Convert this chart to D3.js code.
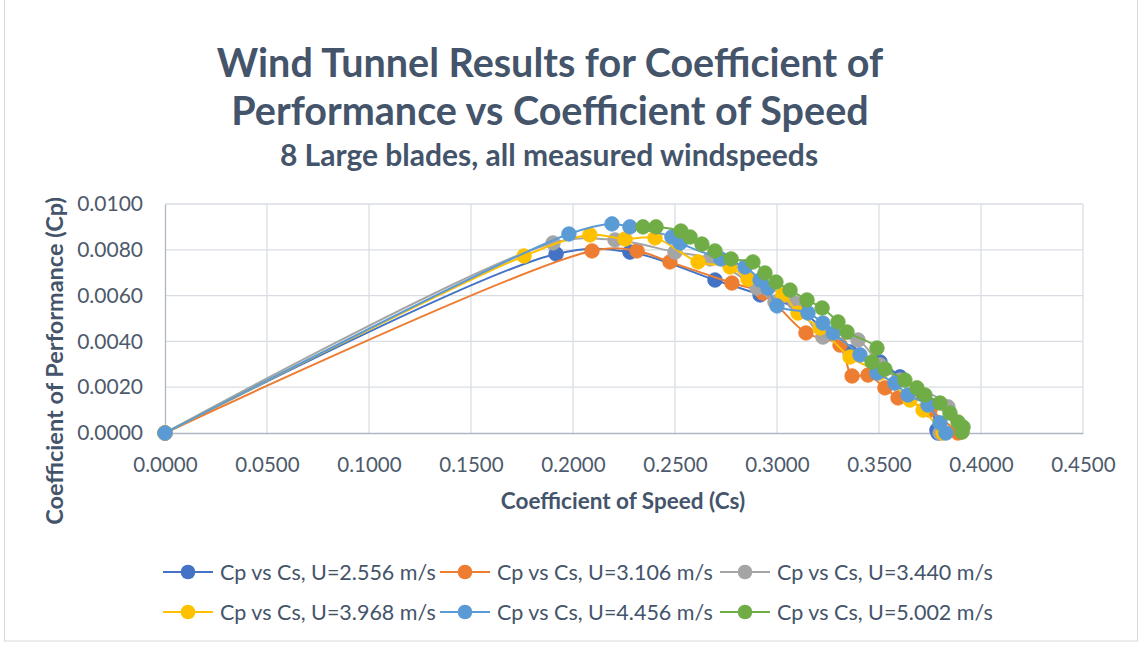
<!DOCTYPE html>
<html>
<head>
<meta charset="utf-8">
<script src="https://cdn.jsdelivr.net/npm/d3@7"></script>
<style>
  html, body { margin: 0; padding: 0; background: #ffffff; }
  svg { display: block; }
  text { font-family: Lato, "Open Sans", sans-serif; }
</style>
</head>
<body>
<svg id="chart" width="1142" height="645"></svg>
<script>
// Series: Cs (x) and Cp (y) for each measured wind speed
const seriesNames = [
  "Cp vs Cs, U=2.556 m/s", "Cp vs Cs, U=3.106 m/s", "Cp vs Cs, U=3.440 m/s",
  "Cp vs Cs, U=3.968 m/s", "Cp vs Cs, U=4.456 m/s", "Cp vs Cs, U=5.002 m/s"
];
const seriesColors = ["#4472C4", "#ED7D31", "#A5A5A5", "#FFC000", "#5B9BD5", "#70AD47"];

const cs_2556 = [0, 0.1917, 0.2279, 0.2696, 0.2917, 0.3113, 0.3358, 0.3505, 0.3603, 0.3691, 0.3750, 0.3784, 0.3789];
const cp_2556 = [0, 0.00782, 0.00790, 0.00668, 0.00603, 0.00537, 0.00354, 0.00310, 0.00245, 0.00179, 0.00122, 0.00013, 0];

const cs_3106 = [0, 0.2093, 0.2314, 0.2475, 0.2779, 0.2931, 0.3142, 0.3309, 0.3368, 0.3446, 0.3529, 0.3593, 0.3750, 0.3887];
const cp_3106 = [0, 0.00795, 0.00795, 0.00747, 0.00655, 0.00611, 0.00437, 0.00384, 0.00249, 0.00253, 0.00197, 0.00153, 0.00100, 0];

const cs_3440 = [0, 0.1902, 0.2206, 0.2500, 0.2672, 0.2902, 0.2990, 0.3088, 0.3225, 0.3397, 0.3505, 0.3603, 0.3838, 0.3799];
const cp_3440 = [0, 0.00830, 0.00843, 0.00790, 0.00760, 0.00633, 0.00572, 0.00568, 0.00419, 0.00406, 0.00297, 0.00231, 0.00114, 0];

const cs_3968 = [0, 0.1760, 0.2083, 0.2255, 0.2402, 0.2613, 0.2770, 0.2858, 0.3029, 0.3103, 0.3211, 0.3358, 0.3505, 0.3652, 0.3716, 0.3814];
const cp_3968 = [0, 0.00773, 0.00865, 0.00847, 0.00852, 0.00747, 0.00725, 0.00672, 0.00603, 0.00524, 0.00459, 0.00332, 0.00262, 0.00144, 0.00100, 0];

const cs_4456 = [0, 0.1980, 0.2191, 0.2279, 0.2485, 0.2525, 0.2725, 0.2843, 0.2917, 0.2956, 0.3000, 0.3152, 0.3225, 0.3275, 0.3407, 0.3490, 0.3578, 0.3642, 0.3740, 0.3799, 0.3828];
const cp_4456 = [0, 0.00869, 0.00913, 0.00900, 0.00856, 0.00830, 0.00760, 0.00725, 0.00668, 0.00633, 0.00555, 0.00524, 0.00480, 0.00437, 0.00341, 0.00262, 0.00218, 0.00166, 0.00122, 0.00044, 0];

const cs_5002 = [0.2343, 0.2407, 0.2529, 0.2574, 0.2632, 0.2696, 0.2775, 0.2882, 0.2941, 0.2995, 0.3064, 0.3147, 0.3221, 0.3299, 0.3343, 0.3490, 0.3466, 0.3529, 0.3627, 0.3686, 0.3725, 0.3799, 0.3848, 0.3887, 0.3912, 0.3907];
const cp_5002 = [0.00900, 0.00900, 0.00882, 0.00856, 0.00825, 0.00795, 0.00760, 0.00747, 0.00699, 0.00659, 0.00624, 0.00581, 0.00546, 0.00485, 0.00441, 0.00371, 0.00310, 0.00279, 0.00231, 0.00197, 0.00166, 0.00131, 0.00087, 0.00048, 0.00026, 0.00004];

const xTicks = [0, 0.05, 0.10, 0.15, 0.20, 0.25, 0.30, 0.35, 0.40, 0.45];
const yTicks = [0, 0.002, 0.004, 0.006, 0.008, 0.010];

const allCs = [cs_2556, cs_3106, cs_3440, cs_3968, cs_4456, cs_5002];
const allCp = [cp_2556, cp_3106, cp_3440, cp_3968, cp_4456, cp_5002];
const series = seriesNames.map((name, i) => ({
  name, color: seriesColors[i],
  points: allCs[i].map((x, j) => ({ x, y: allCp[i][j] }))
}));

const svg = d3.select("#chart");
const plot = { left: 165, right: 1083, top: 204, bottom: 433 };
const textColor = "#44546A";
const tickColor = "#4D5A6B";

// Chart frame
svg.append("rect").attr("x", 4.5).attr("y", -2).attr("width", 1133).attr("height", 643)
  .attr("fill", "#fff").attr("stroke", "#D9D9D9").attr("stroke-width", 1);

const x = d3.scaleLinear().domain([0, 0.45]).range([plot.left, plot.right]);
const y = d3.scaleLinear().domain([0, 0.01]).range([plot.bottom, plot.top]);

// Gridlines
svg.append("g")
  .selectAll("line").data(xTicks.slice(1)).join("line")
  .attr("x1", d => x(d)).attr("x2", d => x(d))
  .attr("y1", plot.top).attr("y2", plot.bottom)
  .attr("stroke", "#D9DDE3").attr("stroke-width", 1.3);
svg.append("g")
  .selectAll("line").data(yTicks.slice(1)).join("line")
  .attr("x1", plot.left).attr("x2", plot.right)
  .attr("y1", d => y(d)).attr("y2", d => y(d))
  .attr("stroke", "#D9DDE3").attr("stroke-width", 1.3);

// Axes
const xAxis = d3.axisBottom(x).tickValues(xTicks).tickFormat(d3.format(".4f")).tickSize(0).tickPadding(24);
const yAxis = d3.axisLeft(y).tickValues(yTicks).tickFormat(d3.format(".4f")).tickSize(0).tickPadding(22);

const gx = svg.append("g").attr("transform", `translate(0,${plot.bottom})`).call(xAxis);
gx.select(".domain").attr("stroke", "#AEB7C4").attr("stroke-width", 1.3);
gx.selectAll("text").attr("fill", tickColor).attr("font-size", 20.5).style("font-family", "Lato, sans-serif");

const gy = svg.append("g").attr("transform", `translate(${plot.left},0)`).call(yAxis);
gy.select(".domain").attr("stroke", "#AEB7C4").attr("stroke-width", 1.3);
gy.selectAll("text").attr("fill", tickColor).attr("font-size", 21).style("font-family", "Lato, sans-serif");

// Titles
svg.append("text").attr("x", 550).attr("y", 77).attr("text-anchor", "middle")
  .attr("font-size", 39.5).attr("font-weight", "bold").attr("fill", textColor)
  .text("Wind Tunnel Results for Coefficient of");
svg.append("text").attr("x", 550).attr("y", 125).attr("text-anchor", "middle")
  .attr("font-size", 39.5).attr("font-weight", "bold").attr("fill", textColor)
  .text("Performance vs Coefficient of Speed");
svg.append("text").attr("x", 549).attr("y", 166).attr("text-anchor", "middle")
  .attr("font-size", 30).attr("font-weight", "bold").attr("fill", textColor)
  .text("8 Large blades, all measured windspeeds");

svg.append("text").attr("x", 623).attr("y", 509).attr("text-anchor", "middle")
  .attr("font-size", 22.5).attr("font-weight", "bold").attr("fill", textColor)
  .text("Coefficient of Speed (Cs)");
svg.append("text").attr("transform", "translate(63,361) rotate(-90)").attr("text-anchor", "middle")
  .attr("font-size", 23.5).attr("font-weight", "bold").attr("fill", textColor)
  .text("Coefficient of Performance (Cp)");

// Series lines and markers
const line = d3.line().x(d => x(d.x)).y(d => y(d.y)).curve(d3.curveCatmullRom.alpha(0.5));
const gs = svg.append("g");
series.forEach(s => {
  const g = gs.append("g");
  g.append("path").attr("d", line(s.points)).attr("fill", "none")
    .attr("stroke", s.color).attr("stroke-width", 2);
  g.selectAll("circle").data(s.points).join("circle")
    .attr("cx", d => x(d.x)).attr("cy", d => y(d.y)).attr("r", 7.3)
    .attr("fill", s.color).attr("stroke", s.color).attr("stroke-width", 0.8);
});

// Legend
const legendCols = [163, 440, 720];
const legendRows = [572, 612];
series.forEach((s, i) => {
  const lx = legendCols[i % 3], ly = legendRows[Math.floor(i / 3)];
  const g = svg.append("g").attr("transform", `translate(${lx},${ly})`);
  g.append("line").attr("x1", 0).attr("x2", 50).attr("y1", 0).attr("y2", 0)
    .attr("stroke", s.color).attr("stroke-width", 2);
  g.append("circle").attr("cx", 25).attr("cy", 0).attr("r", 7.3).attr("fill", s.color);
  g.append("text").attr("x", 57).attr("y", 7.5).attr("font-size", 21.5)
    .attr("fill", textColor).text(s.name);
});
</script>
</body>
</html>
